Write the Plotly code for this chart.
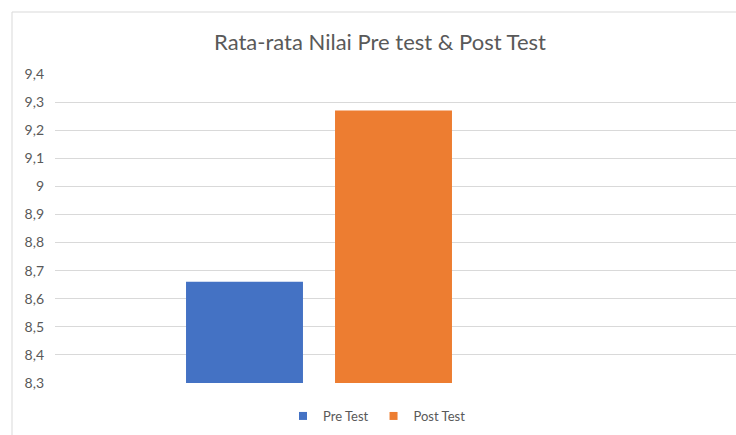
import plotly.graph_objects as go

# Data
categories = [""]
series_names = ["Pre Test", "Post Test"]
pre_test = [8.66]
post_test = [9.27]
tick_vals = [8.3, 8.4, 8.5, 8.6, 8.7, 8.8, 8.9, 9.0, 9.1, 9.2, 9.3, 9.4]
tick_text = ["8,3", "8,4", "8,5", "8,6", "8,7", "8,8", "8,9", "9", "9,1", "9,2", "9,3", "9,4"]

colors = ["#4472C4", "#ED7D31"]
text_color = "#595959"
font_family = "Lato, 'Open Sans', sans-serif"

fig = go.Figure()
for name, vals, col in zip(series_names, [pre_test, post_test], colors):
    fig.add_trace(go.Bar(x=categories, y=vals, name=name, marker=dict(color=col, line=dict(width=0)),
                         showlegend=False))
    # legend proxy with small square marker
    fig.add_trace(go.Scatter(x=[None], y=[None], mode="markers", name=name,
                             marker=dict(symbol="square", size=8, color=col)))

W, H = 736, 435
L, R, T, B = 55, 0, 74, 52
PW, PH = W - L - R, H - T - B
fig.update_layout(
    width=W, height=H,
    margin=dict(l=L, r=R, t=T, b=B, autoexpand=False),
    paper_bgcolor="white", plot_bgcolor="white",
    separators=",.",
    barmode="group", bargap=0.5, bargroupgap=0.215,
    font=dict(family=font_family, color=text_color, size=13),
    title=dict(text="Rata-rata Nilai Pre test & Post Test", x=380 / W, xanchor="center",
               y=1 - 42 / H, yanchor="middle", yref="container",
               font=dict(size=22, color=text_color, family=font_family)),
    xaxis=dict(range=[-264 / 596, 417 / 596], showticklabels=False, showgrid=False, zeroline=False,
               showline=False, ticks=""),
    yaxis=dict(range=[8.3, 9.4], tickvals=tick_vals, ticktext=tick_text, showgrid=True,
               gridcolor="#D9D9D9", gridwidth=1, zeroline=False, showline=False,
               ticks="", tickfont=dict(size=14, color=text_color), ticklabelstandoff=10),
    legend=dict(orientation="h", x=(377 - L) / PW, xanchor="center",
                y=-(416 - 383) / PH, yanchor="middle",
                font=dict(size=13, color=text_color), itemwidth=30, tracegroupgap=0,
                bgcolor="rgba(0,0,0,0)"),
    shapes=[dict(type="rect", xref="paper", yref="paper",
                 x0=(12 - L) / PW, x1=(770 - L) / PW,
                 y0=-(470 - 383) / PH, y1=(383 - 12) / PH,
                 line=dict(color="#D9D9D9", width=1), fillcolor="rgba(0,0,0,0)", layer="below")],
)

fig.write_html("out.html", config={"displayModeBar": False},
               post_script="document.body.style.margin='0';document.body.style.overflow='hidden';")
